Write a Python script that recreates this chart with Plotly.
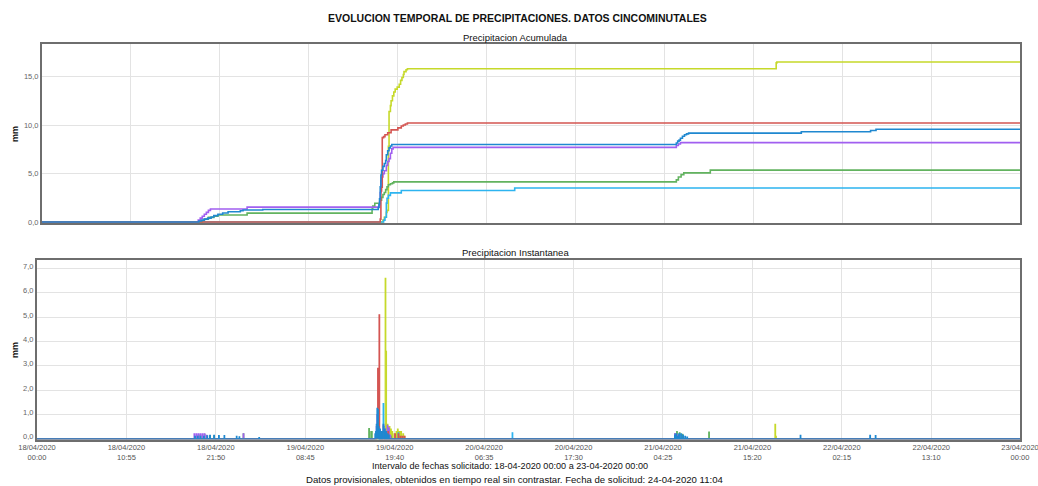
import pandas as pd
import plotly.graph_objects as go

# Intervalo solicitado (datos cada 5 minutos)
inicio = "2020-04-18 00:00"
fin = "2020-04-23 00:00"

# Etiquetas del eje temporal
etiquetas_x = [
    "18/04/2020 00:00", "18/04/2020 10:55", "18/04/2020 21:50", "19/04/2020 08:45",
    "19/04/2020 19:40", "20/04/2020 06:35", "20/04/2020 17:30", "21/04/2020 04:25",
    "21/04/2020 15:20", "22/04/2020 02:15", "22/04/2020 13:10", "23/04/2020 00:00",
]
ticks_acum = [0, 5, 10, 15]
etiquetas_acum = ["0,0", "5,0", "10,0", "15,0"]
ticks_inst = [0, 1, 2, 3, 4, 5, 6, 7]
etiquetas_inst = ["0,0", "1,0", "2,0", "3,0", "4,0", "5,0", "6,0", "7,0"]

# Precipitacion cincominutal por estacion (solo intervalos con lluvia, mm)
amarillo_hora = [
    "2020-04-19 17:50", "2020-04-19 18:00", "2020-04-19 18:15", "2020-04-19 18:20",
    "2020-04-19 18:30", "2020-04-19 18:35", "2020-04-19 18:45", "2020-04-19 18:50",
    "2020-04-19 19:00", "2020-04-19 19:10", "2020-04-19 19:20", "2020-04-19 19:35",
    "2020-04-19 19:50", "2020-04-19 20:00", "2020-04-19 20:10", "2020-04-19 20:20",
    "2020-04-19 20:25", "2020-04-19 20:40", "2020-04-19 20:50",
    "2020-04-21 18:05", "2020-04-21 18:10",
]
amarillo_mm = [
    0.2, 0.3, 0.5, 0.2,
    6.6, 3.6, 0.6, 0.5,
    0.5, 0.4, 0.3, 0.2,
    0.3, 0.4, 0.3, 0.3,
    0.3, 0.2, 0.1,
    0.6, 0.1,
]

celeste_hora = [
    "2020-04-19 17:55", "2020-04-19 18:05", "2020-04-19 18:15", "2020-04-19 18:20",
    "2020-04-19 18:30", "2020-04-19 18:45", "2020-04-19 20:05",
    "2020-04-20 10:00",
]
celeste_mm = [0.2, 0.3, 1.45, 0.5, 0.3, 0.25, 0.25, 0.25]

verde_hora = [
    "2020-04-18 19:40", "2020-04-18 19:55", "2020-04-18 20:25", "2020-04-18 21:05",
    "2020-04-18 21:35", "2020-04-19 01:10",
    "2020-04-19 16:30", "2020-04-19 16:35", "2020-04-19 16:50",
    "2020-04-19 17:30", "2020-04-19 17:40", "2020-04-19 17:50", "2020-04-19 18:00",
    "2020-04-19 18:10", "2020-04-19 18:20", "2020-04-19 18:30", "2020-04-19 18:45",
    "2020-04-19 19:00", "2020-04-19 19:10",
    "2020-04-21 05:50", "2020-04-21 06:05", "2020-04-21 06:25", "2020-04-21 06:45",
    "2020-04-21 10:00",
]
verde_mm = [
    0.15, 0.15, 0.18, 0.12,
    0.12, 0.2,
    0.42, 0.3, 0.3,
    0.3, 0.3, 0.3, 0.2,
    0.3, 0.3, 0.2, 0.1,
    0.1, 0.1,
    0.2, 0.3, 0.25, 0.18,
    0.28,
]

morado_hora = [
    "2020-04-18 19:10", "2020-04-18 19:25", "2020-04-18 19:40", "2020-04-18 19:55",
    "2020-04-18 20:10", "2020-04-18 20:25", "2020-04-18 20:40", "2020-04-19 01:10",
    "2020-04-19 17:25", "2020-04-19 17:30", "2020-04-19 17:35", "2020-04-19 17:40",
    "2020-04-19 17:50", "2020-04-19 18:00", "2020-04-19 18:15", "2020-04-19 18:25",
    "2020-04-19 18:35", "2020-04-19 18:45", "2020-04-19 18:55", "2020-04-19 19:05",
    "2020-04-21 05:50", "2020-04-21 06:05", "2020-04-21 06:20",
]
morado_mm = [
    0.2, 0.2, 0.2, 0.2,
    0.2, 0.2, 0.14, 0.2,
    0.5, 1.0, 1.2, 0.4,
    0.35, 0.3, 0.55, 0.4,
    0.3, 0.55, 0.45, 0.15,
    0.2, 0.15, 0.14,
]

rojo_hora = [
    "2020-04-19 17:30", "2020-04-19 17:35", "2020-04-19 17:40", "2020-04-19 17:45",
    "2020-04-19 17:55", "2020-04-19 18:05", "2020-04-19 18:25", "2020-04-19 18:50",
    "2020-04-19 19:40", "2020-04-19 20:05", "2020-04-19 20:20", "2020-04-19 20:35",
    "2020-04-19 20:50",
]
rojo_mm = [0.3, 2.9, 0.4, 5.1, 0.1, 0.2, 0.2, 0.3, 0.2, 0.2, 0.1, 0.1, 0.1]

azul_hora = [
    "2020-04-18 19:15", "2020-04-18 19:35", "2020-04-18 19:55", "2020-04-18 20:20",
    "2020-04-18 20:45", "2020-04-18 21:05", "2020-04-18 21:35", "2020-04-18 22:10",
    "2020-04-18 22:50", "2020-04-19 00:20", "2020-04-19 00:40", "2020-04-19 03:05",
    "2020-04-19 17:15", "2020-04-19 17:20", "2020-04-19 17:25", "2020-04-19 17:30",
    "2020-04-19 17:35", "2020-04-19 17:40", "2020-04-19 17:50", "2020-04-19 18:00",
    "2020-04-19 18:10", "2020-04-19 18:15", "2020-04-19 18:25", "2020-04-19 18:35",
    "2020-04-19 18:45", "2020-04-19 18:55",
    "2020-04-21 05:50", "2020-04-21 06:00", "2020-04-21 06:10", "2020-04-21 06:20",
    "2020-04-21 06:35", "2020-04-21 06:50", "2020-04-21 07:05", "2020-04-21 07:20",
    "2020-04-21 21:10", "2020-04-22 05:40", "2020-04-22 06:20",
]
azul_mm = [
    0.1, 0.1, 0.1, 0.1,
    0.12, 0.14, 0.14, 0.13,
    0.13, 0.1, 0.08, 0.05,
    0.2, 0.3, 0.6, 1.25,
    1.2, 0.5, 0.4, 0.3,
    0.3, 0.6, 0.4, 0.3,
    0.2, 0.15,
    0.15, 0.2, 0.1, 0.2,
    0.2, 0.15, 0.1, 0.07,
    0.14, 0.14, 0.13,
]

# Orden de dibujo: la ultima serie queda encima
estaciones = [
    ("amarillo", amarillo_hora, amarillo_mm, "#c6d92a"),
    ("celeste", celeste_hora, celeste_mm, "#2db4f0"),
    ("verde", verde_hora, verde_mm, "#62b35f"),
    ("morado", morado_hora, morado_mm, "#a15ff0"),
    ("rojo", rojo_hora, rojo_mm, "#d45552"),
    ("azul", azul_hora, azul_mm, "#1f88d0"),
]

tiempo = pd.date_range(inicio, fin, freq="5min")


def serie_instantanea(horas, mm):
    s = pd.Series(0.0, index=tiempo)
    s.loc[pd.to_datetime(horas)] = mm
    return s


W, H = 1038, 486


def px(x):
    return x / W


def py(y):
    return 1 - y / H


fig = go.Figure()
for nombre, horas, mm, color in estaciones:
    inst = serie_instantanea(horas, mm)
    fig.add_trace(go.Scatter(
        x=tiempo, y=inst.cumsum(), name=nombre, mode="lines",
        line=dict(color=color, width=1.6, shape="hv"),
        xaxis="x2", yaxis="y2", hoverinfo="skip",
    ))
    fig.add_trace(go.Scatter(
        x=tiempo, y=inst, name=nombre, mode="lines",
        line=dict(color=color, width=1.1, shape="hv"),
        fill="tozeroy", fillcolor=color,
        xaxis="x", yaxis="y", hoverinfo="skip",
    ))

tick_pos = pd.to_datetime(etiquetas_x, format="%d/%m/%Y %H:%M")
tick_txt = [e.replace(" ", "<br>") for e in etiquetas_x]

fuente = "Liberation Sans, Arial, sans-serif"
grid = "#e3e3e3"
borde = "#6e6e6e"

eje_x = dict(
    type="date", range=[inicio, fin], tickvals=tick_pos, ticktext=tick_txt,
    showgrid=True, gridcolor=grid, gridwidth=1, zeroline=False,
    showline=True, mirror=True, linecolor=borde, linewidth=2,
    ticks="", layer="below traces", automargin=False, ticklabeloverflow="allow",
    ticklabelstandoff=-1,
    tickfont=dict(family=fuente, size=7.5, color="#555555"),
)
eje_y = dict(
    showgrid=True, gridcolor=grid, gridwidth=1, zeroline=False,
    showline=True, mirror=True, linecolor=borde, linewidth=2,
    ticks="", layer="below traces", automargin=False, ticklabeloverflow="allow",
    tickfont=dict(family=fuente, size=7.5, color="#666666"),
)

fig.update_layout(
    width=W, height=H, autosize=False,
    margin=dict(l=0, r=0, t=0, b=0, autoexpand=False),
    paper_bgcolor="white", plot_bgcolor="white",
    showlegend=False,
    xaxis=dict(eje_x, domain=[px(37), px(1020)], anchor="y"),
    yaxis=dict(eje_y, domain=[py(440), py(260)], anchor="x", ticklabelshift=-2,
               range=[-0.05, 7.35], tickvals=ticks_inst, ticktext=etiquetas_inst),
    xaxis2=dict(eje_x, domain=[px(42), px(1020)], anchor="y2", showticklabels=False),
    yaxis2=dict(eje_y, domain=[py(223), py(44)], anchor="x2",
                range=[-0.1, 18.35], tickvals=ticks_acum, ticktext=etiquetas_acum),
)

textos = [
    ("<b>EVOLUCION TEMPORAL DE PRECIPITACIONES. DATOS CINCOMINUTALES</b>", 517, 18, 10.5, 0),
    ("Precipitacion Acumulada", 515, 37, 9.5, 0),
    ("Precipitacion Instantanea", 515, 252, 9.5, 0),
    ("<b>mm</b>", 15, 134, 9, -90),
    ("<b>mm</b>", 15, 350, 9, -90),
    ("Intervalo de fechas solicitado: 18-04-2020 00:00 a 23-04-2020 00:00", 510, 466, 9.1, 0),
    ("Datos provisionales, obtenidos en tiempo real sin contrastar. Fecha de solicitud: 24-04-2020 11:04",
     515, 479, 9.6, 0),
]
for texto, x, y, size, ang in textos:
    fig.add_annotation(
        text=texto, x=px(x), y=py(y), xref="paper", yref="paper",
        xanchor="center", yanchor="middle", showarrow=False, textangle=ang,
        font=dict(family=fuente, size=size, color="#111111"),
    )

fig.write_html("out.html")
